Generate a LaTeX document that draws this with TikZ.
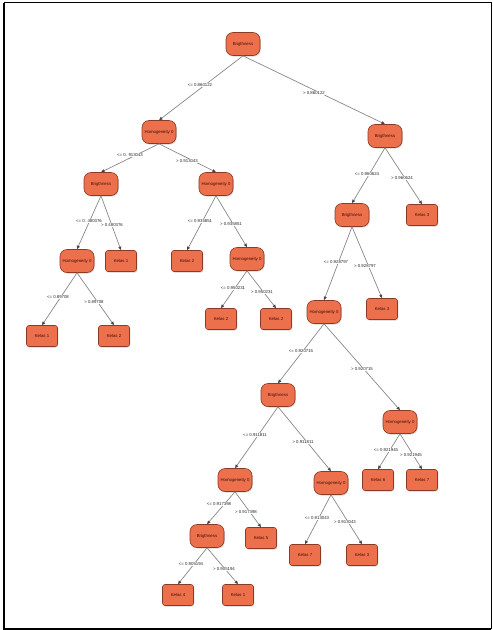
\documentclass[tikz,border=0pt]{standalone}
\usepackage{fontspec}
\setmainfont{Liberation Sans}
\usetikzlibrary{arrows.meta,shadows}
\definecolor{nodefill}{RGB}{236,112,76}
\definecolor{nodeedge}{RGB}{140,58,36}
\definecolor{nodetext}{RGB}{60,14,6}
\definecolor{edgegray}{RGB}{135,135,135}
\definecolor{tipgray}{RGB}{70,70,70}
\tikzset{
  dec/.style={draw=nodeedge, fill=nodefill, line width=0.6pt, rounded corners=7pt,
    minimum width=34pt, minimum height=23pt, inner sep=0pt, text=nodetext,
    font=\fontsize{4.3}{5}\selectfont,
    drop shadow={shadow xshift=0.8pt, shadow yshift=-1pt, opacity=0.35}},
  leaf/.style={draw=nodeedge, fill=nodefill, line width=0.6pt, rounded corners=2.5pt,
    minimum width=31pt, minimum height=21pt, inner sep=0pt, text=nodetext,
    font=\fontsize{4.3}{5}\selectfont,
    drop shadow={shadow xshift=0.8pt, shadow yshift=-1pt, opacity=0.35}},
  edge/.style={draw=edgegray, line width=0.7pt,
    -{Triangle[length=3.5pt,width=3pt,color=tipgray]}},
  lab/.style={font=\fontsize{4.3}{5}\selectfont, text=black!85, inner sep=0.5pt, fill=white}
}
\begin{document}
\begin{tikzpicture}[x=1pt,y=-1pt]
\useasboundingbox (0,0) rectangle (493,630);
\draw[line width=1pt] (3.5,2.5) -- (491,2.5) -- (491,628.5);
\draw[line width=2pt] (3.5,2.5) -- (3.5,628.5) -- (491,628.5);

% nodes
\node[dec] (r) at (243,44) {Brigthness};
\node[dec] (a) at (159,132) {Homogeneity 0};
\node[dec] (b) at (385,136) {Brigthness};
\node[dec] (a1) at (101,184) {Brigthness};
\node[dec] (a2) at (216,184) {Homogeneity 0};
\node[dec] (a11) at (77,261) {Homogeneity 0};
\node[leaf] (a12) at (121,261) {Kelas 1};
\node[leaf] (a111) at (42,336) {Kelas 1};
\node[leaf] (a112) at (114,336) {Kelas 2};
\node[leaf] (a21) at (187,261) {Kelas 2};
\node[dec] (a22) at (247,259) {Homogeneity 0};
\node[leaf] (a221) at (221,319) {Kelas 2};
\node[leaf] (a222) at (276,319) {Kelas 2};
\node[dec] (b1) at (352,215) {Brigthness};
\node[leaf] (b2) at (422,215) {Kelas 3};
\node[dec] (b11) at (324,312) {Homogeneity 0};
\node[leaf] (b12) at (382,309) {Kelas 3};
\node[dec] (c) at (278,395) {Brigthness};
\node[dec] (d) at (400,422) {Homogeneity 0};
\node[leaf] (d1) at (378,480) {Kelas 6};
\node[leaf] (d2) at (422,480) {Kelas 7};
\node[dec] (c1) at (235,480) {Homogeneity 0};
\node[dec] (c2) at (331,483) {Homogeneity 0};
\node[dec] (c11) at (207,536) {Brigthness};
\node[leaf] (c12) at (261,538) {Kelas 5};
\node[leaf] (c21) at (305,555) {Kelas 7};
\node[leaf] (c22) at (362,555) {Kelas 3};
\node[leaf] (c111) at (178,595) {Kelas 4};
\node[leaf] (c112) at (238,595) {Kelas 1};

% edges
\foreach \p/\q in {r/a, r/b, a/a1, a/a2, a1/a11, a1/a12, a11/a111, a11/a112,
  a2/a21, a2/a22, a22/a221, a22/a222, b/b1, b/b2, b1/b11, b1/b12, b11/c, b11/d,
  d/d1, d/d2, c/c1, c/c2, c1/c11, c1/c12, c11/c111, c11/c112, c2/c21, c2/c22}
  \draw[edge] (\p.south) -- (\q.north);

% labels
\node[lab] (l1) at (200,85) {<= 0.860122};
\node[lab] (l2) at (314,93) {> 0.860122};
\node[lab] (l3) at (130,155) {<= 0. 913043};
\node[lab] (l4) at (187,161) {> 0.913043};
\node[lab] (l5) at (89,221) {<= 0. 480376};
\node[lab] (l6) at (112,225) {> 0.480376};
\node[lab] (l7) at (200,221) {<= 0.935851};
\node[lab] (l8) at (231,224) {> 0.935851};
\node[lab] (l9) at (58,297) {<= 0.89708};
\node[lab] (l10) at (94,302) {> 0.89708};
\node[lab] (l11) at (233,288) {<= 0.950231};
\node[lab] (l12) at (262,292) {> 0.950231};
\node[lab] (l13) at (367,174) {<= 0.960624};
\node[lab] (l14) at (402,178) {> 0.960624};
\node[lab] (l15) at (336,262) {<= 0.928797};
\node[lab] (l16) at (365,266) {> 0.928797};
\node[lab] (l17) at (301,351) {<= 0.920715};
\node[lab] (l18) at (362,369) {> 0.920715};
\node[lab] (l19) at (255,435) {<= 0.911811};
\node[lab] (l20) at (303,442) {> 0.911811};
\node[lab] (l21) at (386,450) {<= 0.921945};
\node[lab] (l22) at (411,455) {> 0.921945};
\node[lab] (l23) at (219,504) {<= 0.917398};
\node[lab] (l24) at (246,512) {> 0.917398};
\node[lab] (l25) at (317,518) {<= 0.913043};
\node[lab] (l26) at (345,522) {> 0.913043};
\node[lab] (l27) at (191,564) {<= 0.905194};
\node[lab] (l28) at (224,569) {> 0.905194};
\end{tikzpicture}
\end{document}
